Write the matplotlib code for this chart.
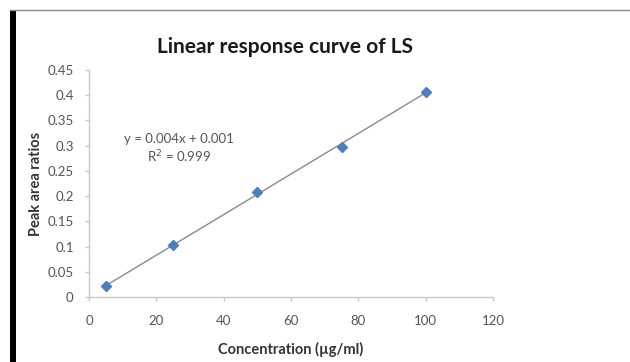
import numpy as np
import matplotlib
matplotlib.use('Agg')
import matplotlib.pyplot as plt
from matplotlib.patches import Rectangle
from matplotlib.lines import Line2D

# calibration data
conc = [5, 25, 50, 75, 100]
ratio = [0.021, 0.104, 0.208, 0.298, 0.407]
x_ticks = [0, 20, 40, 60, 80, 100, 120]
y_ticks = [0, 0.05, 0.1, 0.15, 0.2, 0.25, 0.3, 0.35, 0.4, 0.45]
y_tick_labels = ['0', '0.05', '0.1', '0.15', '0.2', '0.25', '0.3', '0.35', '0.4', '0.45']

plt.rcParams['font.family'] = ['Lato', 'DejaVu Sans']

fig = plt.figure(figsize=(6.3, 3.62), dpi=100)
ax = fig.add_axes([89/630, 1-297/362, 404/630, 227/362])

# linear trendline through the points
coef = np.polyfit(conc, ratio, 1)
xs = np.array([min(conc), max(conc)])
ax.plot(xs, np.poly1d(coef)(xs), color='#8a8a8a', lw=1.0, zorder=2)
ax.plot(conc, ratio, ls='none', marker='D', ms=5.5, color='#4a7ebf', zorder=3)

ax.set_xlim(0, 120)
ax.set_ylim(0, 0.45)
ax.set_xticks(x_ticks)
ax.set_yticks(y_ticks)
ax.set_yticklabels(y_tick_labels)
for s in ['top', 'right']:
    ax.spines[s].set_visible(False)
for s in ['left', 'bottom']:
    ax.spines[s].set_color('#c8c8c8')
    ax.spines[s].set_linewidth(1.0)
ax.tick_params(axis='both', colors='#c8c8c8', labelcolor='#555555',
               labelsize=9.5, length=3, width=1.0)
ax.tick_params(axis='x', pad=10)
ax.tick_params(axis='y', pad=8)

ax.set_xlabel('Concentration (µg/ml)', fontsize=10.5, fontweight='bold',
              color='#333333', labelpad=11)
ax.set_ylabel('Peak area ratios', fontsize=10.5, fontweight='bold',
              color='#333333', labelpad=3)

ax.text(0.223, 0.65, 'y = 0.004x + 0.001\nR$^2$ = 0.999', transform=ax.transAxes,
        ha='center', va='center', fontsize=9.5, color='#555555', linespacing=1.25)

fig.text(0.452, 0.87, 'Linear response curve of LS', ha='center', va='center',
         fontsize=15, fontweight='bold', color='#1a1a1a')

# frame decorations
fig.add_artist(Rectangle((10/630, 0), 6/630, 1-10/362, transform=fig.transFigure,
                         color='black', lw=0))
fig.add_artist(Line2D([10/630, 1], [1-10/362, 1-10/362], transform=fig.transFigure,
                      color='#888888', lw=1.0))

fig.savefig('out.png', dpi=100)
